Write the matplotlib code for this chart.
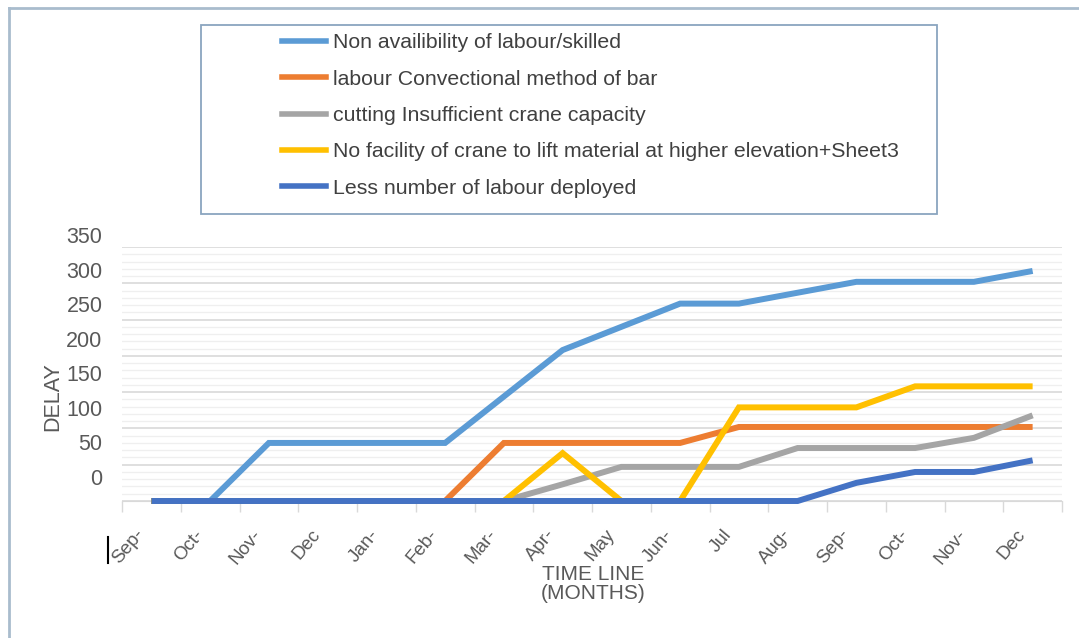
import numpy as np
import matplotlib.pyplot as plt
from matplotlib.transforms import ScaledTranslation
from matplotlib.patches import Rectangle
from matplotlib.lines import Line2D

plt.rcParams['font.family'] = ['Liberation Sans', 'DejaVu Sans']

months = ['Sep-', 'Oct-', 'Nov-', 'Dec', 'Jan-', 'Feb-', 'Mar-', 'Apr-',
          'May', 'Jun-', 'Jul', 'Aug-', 'Sep-', 'Oct-', 'Nov-', 'Dec']

labels = ['Non availibility of labour/skilled',
          'labour Convectional method of bar',
          'cutting Insufficient crane capacity',
          'No facility of crane to lift material at higher elevation+Sheet3',
          'Less number of labour deployed']

non_avail = [0, 0, 80, 80, 80, 80, 144, 208, 240, 272, 272, 287, 302, 302, 302, 317]
conventional = [0, 0, 0, 0, 0, 0, 80, 80, 80, 80, 102, 102, 102, 102, 102, 102]
crane_cap = [0, 0, 0, 0, 0, 0, 0, 23, 47, 47, 47, 73, 73, 73, 87, 118]
no_facility = [0, 0, 0, 0, 0, 0, 0, 66, 0, 0, 129, 129, 129, 158, 158, 158]
less_labour = [0, 0, 0, 0, 0, 0, 0, 0, 0, 0, 0, 0, 25, 40, 40, 56]

colors = ['#5B9BD5', '#ED7D31', '#A5A5A5', '#FFC000', '#4472C4']
series = [non_avail, conventional, crane_cap, no_facility, less_labour]
yvals = [0, 50, 100, 150, 200, 250, 300, 350]

W, H = 1079, 638
fig = plt.figure(figsize=(W / 100, H / 100), dpi=100)
ax = fig.add_axes([122 / W, (H - 501) / H, 940 / W, 254 / H])

x = np.arange(len(months))
for vals, c in zip(series, colors):
    ax.plot(x, vals, color=c, lw=4.3, solid_capstyle='butt', solid_joinstyle='miter',
            clip_on=False, zorder=3)

ax.set_xlim(-0.5, len(months) - 0.5)
ax.set_ylim(0, 350)

# gridlines
ax.set_yticks(yvals)
ax.set_yticks(np.arange(0, 351, 10), minor=True)
ax.grid(True, which='major', axis='y', color='#d9d9d9', lw=1.2)
ax.grid(True, which='minor', axis='y', color='#efefef', lw=0.9)
ax.set_axisbelow(True)
for s in ['top', 'right', 'left']:
    ax.spines[s].set_visible(False)
ax.spines['bottom'].set_color('#d9d9d9')

ax.tick_params(axis='y', which='both', length=0, labelsize=15.5, labelcolor='#595959', pad=14)
ax.set_yticklabels([str(v) for v in yvals])
# y labels sit above their gridlines in the source picture
for lab, v in zip(ax.get_yticklabels(), yvals):
    dy = (24 - 12 * v / 350) / 100
    lab.set_transform(lab.get_transform() + ScaledTranslation(0, dy, fig.dpi_scale_trans))

ax.set_xticks(x)
ax.set_xticks(np.arange(-0.5, len(months)), minor=True)
ax.set_xticklabels(months, rotation=50, ha='right', va='center', rotation_mode='anchor',
                   fontsize=13.5, color='#595959')
ax.tick_params(axis='x', which='major', length=0, pad=22)
ax.tick_params(axis='x', which='minor', length=8, color='#d9d9d9', width=1)
for lab in ax.get_xticklabels():
    lab.set_transform(lab.get_transform() + ScaledTranslation(-0.1, 0, fig.dpi_scale_trans))

ax.set_ylabel('DELAY', fontsize=15.5, color='#595959')
ax.yaxis.set_label_coords(-0.062, 0.41)
fig.text(593 / W, 1 - 584 / H, 'TIME LINE\n(MONTHS)', ha='center', va='center',
         fontsize=15, color='#595959', linespacing=0.95)

# legend box and entries
fig.patches.append(Rectangle((201 / W, 1 - 214 / H), 736 / W, 189 / H, transform=fig.transFigure,
                             fill=False, edgecolor='#8aa5bf', lw=1.3))
handles = [Line2D([], [], color=c, lw=4) for c in colors]
fig.legend(handles, labels, loc='upper left', bbox_to_anchor=(263 / W, 1 - 14 / H),
           frameon=False, fontsize=15.3, handlelength=2.05, handletextpad=0.35,
           labelspacing=0.82, labelcolor='#404040')

# outer frame of the embedded picture
fig.add_artist(Line2D([9 / W, 9 / W], [0, 1 - 8 / H], transform=fig.transFigure,
                      color='#a9bccd', lw=2))
fig.add_artist(Line2D([9 / W, 1], [1 - 8 / H, 1 - 8 / H], transform=fig.transFigure,
                      color='#a9bccd', lw=2))
fig.add_artist(Line2D([108 / W, 108 / W], [1 - 537 / H, 1 - 563 / H], transform=fig.transFigure,
                      color='black', lw=1.5))

fig.savefig('out.png', dpi=100)
